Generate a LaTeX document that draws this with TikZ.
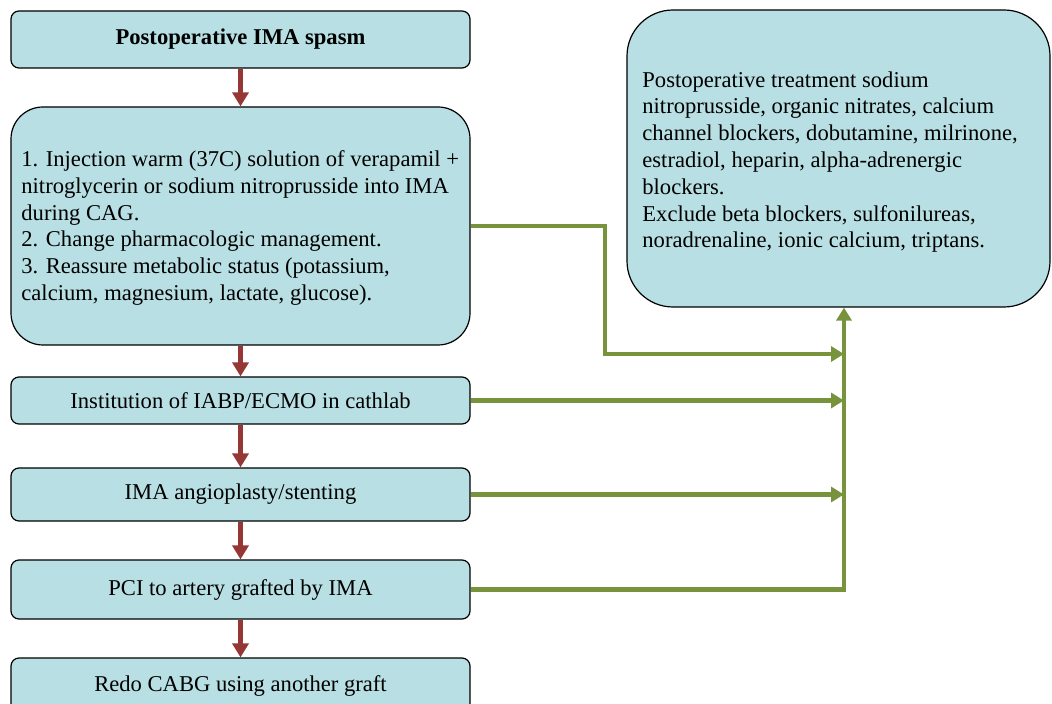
\documentclass[tikz,border=0pt]{standalone}
\usepackage{fontspec}
\setmainfont{Liberation Serif}
\usetikzlibrary{arrows.meta}
\definecolor{boxfill}{RGB}{184,223,227}
\definecolor{redarr}{RGB}{149,55,53}
\definecolor{greenarr}{RGB}{119,147,60}
\begin{document}
\begin{tikzpicture}[x=0.5pt,y=-0.5pt,
  box/.style={draw=black, line width=0.6pt, fill=boxfill, rounded corners=4pt,
    minimum width=229.5pt, inner sep=0pt, font=\fontsize{11.3}{13.4}\selectfont, align=center},
  txt/.style={inner sep=0pt, font=\fontsize{11.3}{13.4}\selectfont, align=left},
  redflow/.style={draw=redarr, line width=2.3pt, -{Triangle[length=7pt,width=8pt]}},
  greenflow/.style={draw=greenarr, line width=2.3pt, -{Triangle[length=6.5pt,width=7.5pt]}},
]
\useasboundingbox (0,0) rectangle (1052,704);
\clip (0,0) rectangle (1052,704);

\node[box, minimum height=28.5pt, font=\fontsize{11.3}{13.4}\selectfont\bfseries] (b1) at (240.5,39.5) {Postoperative IMA spasm};
\node[box, minimum height=119pt, rounded corners=16pt] (b2) at (240.5,226) {};
\node[txt, anchor=west] (b2t) at (21,228)
  {1. Injection warm (37C) solution of verapamil +\\
   nitroglycerin or sodium nitroprusside into IMA\\
   during CAG.\\
   2. Change pharmacologic management.\\
   3. Reassure metabolic status (potassium,\\
   calcium, magnesium, lactate, glucose).};
\node[box, minimum height=23.5pt] (b3) at (240.5,400.5) {Institution of IABP/ECMO in cathlab};
\node[box, minimum height=26.5pt] (b4) at (240.5,494.5) {IMA angioplasty/stenting};
\node[box, minimum height=29.5pt] (b5) at (240.5,589.5) {PCI to artery grafted by IMA};
\node[box, minimum height=28pt] (b6) at (240.5,686) {Redo CABG using another graft};

\node[box, minimum width=211.5pt, minimum height=148.5pt, rounded corners=23pt] (r) at (838.5,158.5) {};
\node[txt, anchor=west] (rt) at (642,162)
  {Postoperative treatment sodium\\
   nitroprusside, organic nitrates, calcium\\
   channel blockers, dobutamine, milrinone,\\
   estradiol, heparin, alpha-adrenergic\\
   blockers.\\
   Exclude beta blockers, sulfonilureas,\\
   noradrenaline, ionic calcium, triptans.};

\draw[redflow] (b1.south) -- (b2.north);
\draw[redflow] (b2.south) -- (b3.north);
\draw[redflow] (b3.south) -- (b4.north);
\draw[redflow] (b4.south) -- (b5.north);
\draw[redflow] (b5.south) -- (b6.north);

\coordinate (vx) at (844,0);
\coordinate (k1) at (605,354);
\draw[greenflow] (b2.east) -| (k1) -- (k1 -| vx);
\draw[greenflow] (b3.east) -- (b3.east -| vx);
\draw[greenflow] (b4.east) -- (b4.east -| vx);
\draw[greenflow] (b5.east) -| (r.south -| vx);
\end{tikzpicture}
\end{document}
